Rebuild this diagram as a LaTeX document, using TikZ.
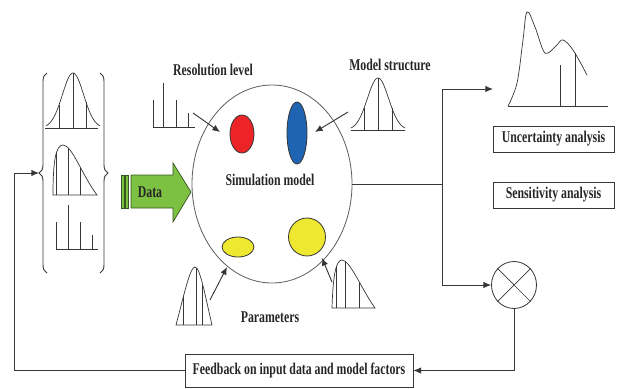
\documentclass[tikz,border=0pt]{standalone}
\usepackage{fontspec}
\newfontfamily\figfont[FakeStretch=0.72]{Liberation Serif}
\usetikzlibrary{shapes,arrows.meta,positioning,decorations.pathreplacing}
\definecolor{datagreen}{RGB}{125,193,66}
\definecolor{darkgreen}{RGB}{55,85,30}
\definecolor{simred}{RGB}{236,36,40}
\definecolor{simblue}{RGB}{30,100,178}
\definecolor{simyellow}{RGB}{238,232,48}
\definecolor{linegray}{RGB}{55,55,55}

\begin{document}
\begin{tikzpicture}[x=0.03cm, y=-0.03cm, >={Latex[length=6.5pt,width=5.5pt]},
    every node/.style={font=\figfont\bfseries\fontsize{14}{16}\selectfont, text=black!85},
    curve/.style={linegray, line width=0.6pt},
    line/.style={linegray, line width=0.8pt},
    factor/.style={ellipse, draw=linegray, line width=0.7pt, inner sep=0pt},
    result/.style={draw=linegray, line width=0.7pt, minimum width=3.63cm, minimum height=0.78cm, inner sep=0pt}]
        \useasboundingbox (0,0) rectangle (623,388);

        % Input distributions in braces
        \draw[line, decorate, decoration={brace, amplitude=0.24cm}] (47,273) -- (47,73);
        \draw[line, decorate, decoration={brace, amplitude=0.24cm}] (100,73) -- (100,273);
        \coordinate (inL) at (39,173);
        \draw[curve] (45,128) -- (98,128);
        \draw[curve, domain=-27:27, samples=50, smooth] plot ({73+\x},{128-55*exp(-(\x)*(\x)/225)});
        \foreach \d in {-14,0,13}
            \draw[curve] ({73+\d},128) -- ({73+\d},{128-55*exp(-(\d)*(\d)/225)});
        \draw[curve] (53,195) .. controls (53,160) and (56,145) .. (63,145) .. controls (72,145) and (82,175) .. (97,195) -- cycle;
        \begin{scope}
            \clip (53,195) .. controls (53,160) and (56,145) .. (63,145) .. controls (72,145) and (82,175) .. (97,195) -- cycle;
            \foreach \x in {56,68,80} \draw[curve] (\x,195) -- (\x,140);
        \end{scope}
        \draw[curve] (56,249) -- (98,249);
        \draw[curve] (56,249) -- (56,222) (68,249) -- (68,205) (80,249) -- (80,222) (92,249) -- (92,235);

        % Data arrow
        \draw[darkgreen, line width=0.6pt, fill=datagreen] (121,175) rectangle (124,208);
        \draw[darkgreen, line width=0.6pt, fill=datagreen] (125,175) rectangle (128,208);
        \draw[darkgreen, line width=0.6pt, fill=datagreen] (131,175) -- (173,175) -- (173,163) -- (191,192) -- (173,222) -- (173,208) -- (131,208) -- cycle;
        \node (data) at (150,192) {Data};

        % Simulation model
        \node[ellipse, draw=linegray!80, line width=0.7pt, minimum width=4.8cm, minimum height=5.94cm] (sim) at (272,184) {};
        \node (simtext) at (270,180) {Simulation model};
        \node[factor, fill=simred, minimum width=0.72cm, minimum height=1.14cm] (res) at (242,134) {};
        \node[factor, fill=simblue, minimum width=0.6cm, minimum height=1.86cm] (struct) at (297,133) {};
        \node[factor, fill=simyellow, minimum width=0.96cm, minimum height=0.6cm] (parA) at (238,247) {};
        \node[factor, fill=simyellow, minimum width=1.11cm, minimum height=1.14cm] (parB) at (307,237) {};

        % Resolution level
        \node (reslabel) at (213,70) {Resolution level};
        \draw[curve] (153,127) -- (195,127);
        \draw[curve] (153,127) -- (153,100) (163,127) -- (163,83) (176,127) -- (176,100) (188,127) -- (188,113);
        \coordinate (resA) at (193,113);
        \coordinate (resB) at (220,132);
        \draw[line, ->] (resA) -- (resB);

        % Model structure
        \node (structlabel) at (390,65) {Model structure};
        \draw[curve] (351,130) -- (405,130);
        \draw[curve, domain=-27:27, samples=50, smooth] plot ({378+\x},{130-52*exp(-(\x)*(\x)/225)});
        \foreach \d in {-14,0,14}
            \draw[curve] ({378+\d},130) -- ({378+\d},{130-52*exp(-(\d)*(\d)/225)});
        \coordinate (structA) at (348,112);
        \coordinate (structB) at (315,132);
        \draw[line, ->] (structA) -- (structB);

        % Parameters
        \node (parlabel) at (270,317) {Parameters};
        \draw[curve] (176,325) .. controls (184,295) and (190,267) .. (195,267) .. controls (200,267) and (205,295) .. (212,325) -- cycle;
        \begin{scope}
            \clip (176,325) .. controls (184,295) and (190,267) .. (195,267) .. controls (200,267) and (205,295) .. (212,325) -- cycle;
            \foreach \x in {183,196,202} \draw[curve] (\x,325) -- (\x,260);
        \end{scope}
        \coordinate (parAa) at (210,300);
        \coordinate (parAb) at (227,267);
        \draw[line, ->] (parAa) -- (parAb);
        \draw[curve] (332,308) .. controls (333,275) and (336,260) .. (342,260) .. controls (350,260) and (362,290) .. (375,308) -- cycle;
        \begin{scope}
            \clip (332,308) .. controls (333,275) and (336,260) .. (342,260) .. controls (350,260) and (362,290) .. (375,308) -- cycle;
            \foreach \x in {336,345,359} \draw[curve] (\x,308) -- (\x,255);
        \end{scope}
        \coordinate (parBa) at (332,282);
        \coordinate (parBb) at (322,258);
        \draw[line, ->] (parBa) -- (parBb);

        % Output distribution
        \draw[curve] (508,106) -- (608,106);
        \draw[curve] plot[smooth, tension=0.6] coordinates {(508,106) (517,83) (523,40) (527,12) (535,27) (543,50) (548,53) (557,45) (563,40) (573,50) (587,75)};
        \draw[curve] (560,106) -- (560,65) (575,106) -- (575,53);
        \coordinate (outtip) at (493,89);

        % Analyses
        \node[result] (unc) at (553.5,139) {Uncertainty analysis};
        \node[result] (sens) at (553.5,195) {Sensitivity analysis};

        % Comparison
        \node[ellipse, draw=linegray, line width=0.7pt, minimum width=1.35cm, minimum height=1.41cm] (ox) at (514,285) {};
        \draw[curve] (ox.45) -- (ox.225) (ox.135) -- (ox.315);

        % Feedback
        \node[draw=linegray, line width=0.7pt, minimum width=6.84cm, minimum height=0.99cm, inner sep=0pt] (fb) at (299,370.5) {Feedback on input data and model factors};

        % Connections
        \coordinate (split) at (442,184);
        \draw[line] (sim.east) -- (split);
        \draw[line, ->] (split) |- (outtip);
        \draw[line, ->] (split) |- (ox.west);
        \draw[line, ->] (ox.south) |- (fb.east);
        \draw[line, ->] (fb.west) -- ++(-170,0) |- (inL);
\end{tikzpicture}
\end{document}
